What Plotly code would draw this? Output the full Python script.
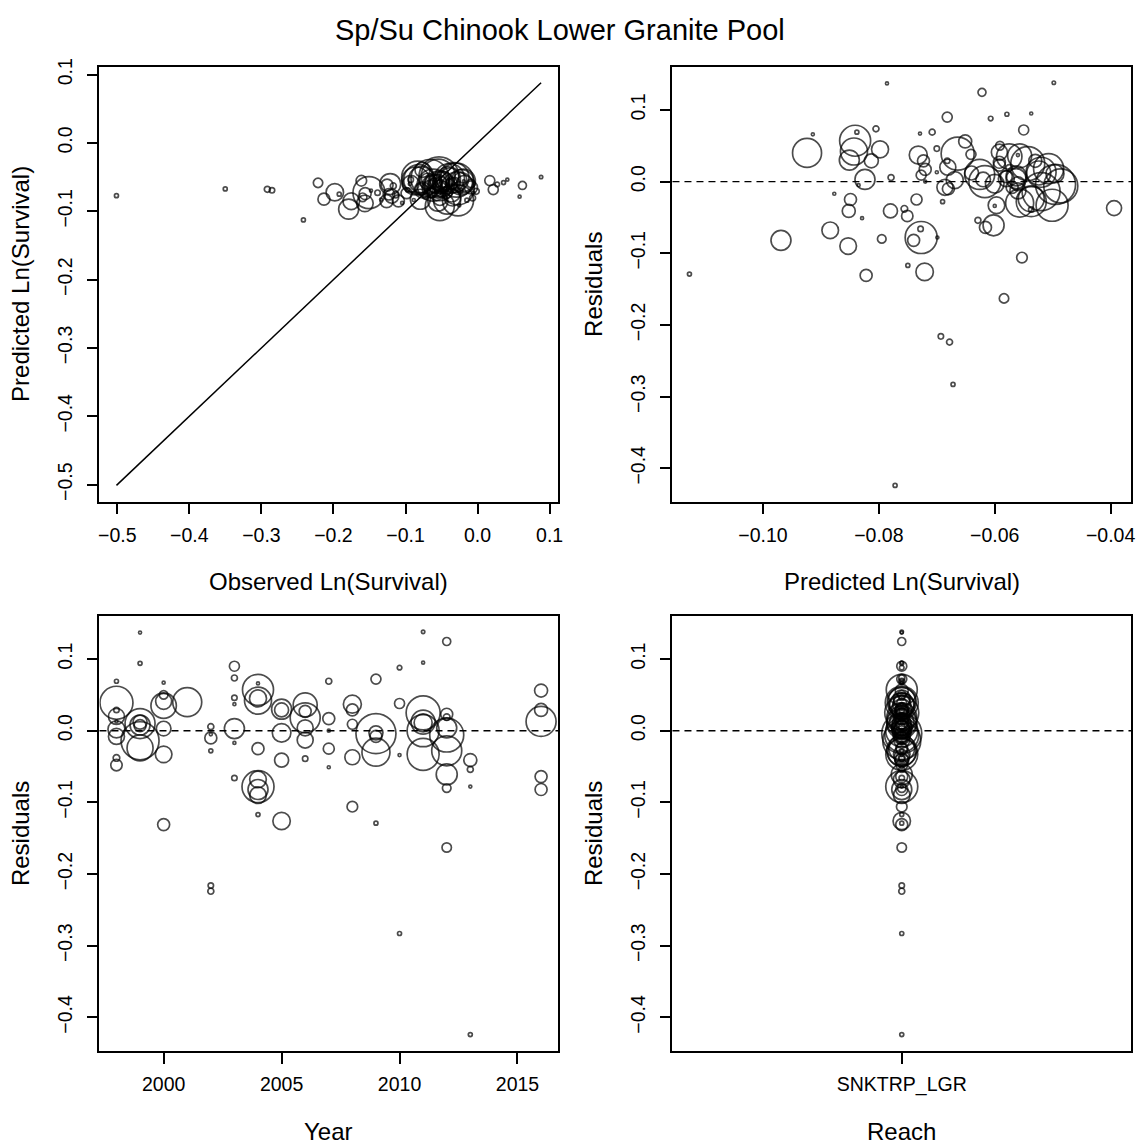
import plotly.graph_objects as go

# ---------------- data ----------------
year = [1998, 1998, 1998, 1998, 1998, 1998, 1998, 1998, 1998,
        1999, 1999, 1999, 1999, 1999, 1999, 1999, 1999,
        2000, 2000, 2000, 2000, 2000, 2000, 2000,
        2001,
        2002, 2002, 2002, 2002, 2002, 2002,
        2003, 2003, 2003, 2003, 2003, 2003, 2003,
        2004, 2004, 2004, 2004, 2004, 2004, 2004, 2004, 2004, 2004,
        2005, 2005, 2005, 2005, 2005,
        2006, 2006, 2006, 2006, 2006, 2006,
        2007, 2007, 2007, 2007, 2007,
        2008, 2008, 2008, 2008, 2008,
        2009, 2009, 2009, 2009, 2009, 2009,
        2010, 2010, 2010, 2010,
        2011, 2011, 2011, 2011, 2011, 2011, 2011,
        2012, 2012, 2012, 2012, 2012, 2012, 2012, 2012, 2012,
        2013, 2013, 2013, 2013,
        2016, 2016, 2016, 2016, 2016]

predicted = [-0.0838, -0.0664, -0.0682, -0.0681, -0.0669, -0.0686, -0.0756, -0.0751, -0.0700,
             -0.0786, -0.0579, -0.0626, -0.0640, -0.0580, -0.0563, -0.0520, -0.0537,
             -0.0729, -0.0591, -0.0575, -0.0592, -0.0620, -0.0597, -0.0822,
             -0.0924,
             -0.0779, -0.0835, -0.0680, -0.0690, -0.0693, -0.0678,
             -0.0682, -0.0805, -0.0700, -0.0560, -0.0824, -0.0877, -0.0728,
             -0.0914, -0.0841, -0.0843, -0.0798, -0.0849, -0.0727, -0.0884, -0.0969, -0.0853, -0.0750,
             -0.0851, -0.0813, -0.0600, -0.0780, -0.0721,
             -0.0557, -0.0592, -0.0507, -0.0580, -0.0560, -0.0537,
             -0.0708, -0.0720, -0.0720, -0.0735, -0.0829,
             -0.0732, -0.0723, -0.0727, -0.0394, -0.0553,
             -0.0550, -0.0495, -0.0560, -0.0570, -0.0557, -0.1127,
             -0.0607, -0.0641, -0.0600, -0.0672,
             -0.0498, -0.0537, -0.0543, -0.0524, -0.0496, -0.0617, -0.0501,
             -0.0622, -0.0592, -0.0575, -0.0486, -0.0563, -0.0537, -0.0602, -0.0795, -0.0584,
             -0.0852, -0.0629, -0.0699, -0.0772,
             -0.0651, -0.0530, -0.0520, -0.0616, -0.0740]

residual = [0.069, 0.039, 0.029, 0.020, 0.002, -0.008, -0.038, -0.048, 0.013,
            0.137, 0.094, 0.010, 0.012, 0.007, 0.008, -0.014, -0.024,
            0.067, 0.050, 0.035, 0.041, 0.003, -0.033, -0.131,
            0.040,
            0.0056, -0.005, -0.010, -0.028, -0.216, -0.224,
            0.090, 0.0736, 0.046, 0.037, 0.003, -0.017, -0.066,
            0.066, 0.057, 0.042, 0.045, -0.025, -0.078, -0.068, -0.082, -0.090, -0.117,
            0.030, 0.029, -0.003, -0.041, -0.126,
            0.036, 0.027, 0.018, 0.004, -0.013, -0.039,
            0.069, 0.017, 0.000, -0.025, -0.051,
            0.037, 0.029, 0.009, -0.037, -0.106,
            0.072, -0.004, -0.003, -0.008, -0.030, -0.129,
            0.088, 0.038, -0.034, -0.283,
            0.138, 0.095, 0.025, 0.012, 0.011, 0.000, -0.033,
            0.1245, 0.023, 0.019, -0.006, 0.004, -0.028, -0.061, -0.080, -0.163,
            -0.041, -0.054, -0.078, -0.424,
            0.056, 0.029, 0.013, -0.064, -0.082]

observed = [-0.0148, -0.0274, -0.0392, -0.0481, -0.0649, -0.0766, -0.1136, -0.1231, -0.0570,
            0.0584, 0.0361, -0.0526, -0.0520, -0.0510, -0.0483, -0.0660, -0.0777,
            -0.0059, -0.0091, -0.0225, -0.0182, -0.0590, -0.0927, -0.2132,
            -0.0524,
            -0.0723, -0.0885, -0.0780, -0.0970, -0.2853, -0.2918,
            0.0218, -0.0069, -0.0240, -0.0190, -0.0794, -0.1047, -0.1388,
            -0.0254, -0.0271, -0.0423, -0.0348, -0.1099, -0.1507, -0.1564, -0.1789, -0.1753, -0.1920,
            -0.0551, -0.0523, -0.0630, -0.1190, -0.1981,
            -0.0197, -0.0322, -0.0327, -0.0540, -0.0690, -0.0927,
            -0.0018, -0.0550, -0.0720, -0.0985, -0.1339,
            -0.0362, -0.0433, -0.0637, -0.0764, -0.1613,
            0.0170, -0.0535, -0.0590, -0.0650, -0.0857, -0.2417,
            0.0273, -0.0261, -0.0940, -0.3502,
            0.0882, 0.0413, -0.0293, -0.0404, -0.0386, -0.0617, -0.0831,
            0.0623, -0.0362, -0.0385, -0.0546, -0.0523, -0.0817, -0.1212, -0.1595, -0.2214,
            -0.1262, -0.1169, -0.1479, -0.5012,
            -0.0091, -0.0240, -0.0390, -0.1256, -0.1560]

# relative weight of each release group (bubble radius is proportional to it)
weight = [2, 16.5, 2.7, 8, 8.5, 8, 3.3, 5.7, 1,
          1, 2, 15, 7, 6, 10, 19, 13,
          1, 4.3, 12.7, 8, 7.3, 8.3, 6,
          14.5,
          3, 1, 6, 2, 2.7, 3,
          5, 3, 2.7, 1, 10, 1.5, 2.7,
          1, 15.5, 13.5, 8.5, 6, 16, 8.3, 10, 8.3, 2,
          10, 7, 9.3, 7, 8.7,
          12, 6, 15, 8, 8, 2.7,
          3, 6, 1, 5.5, 1,
          9, 6, 5, 7.5, 5.3,
          5, 20, 7, 6, 14, 2,
          2.3, 5, 1, 2,
          1.7, 1, 17, 12, 9, 16, 16,
          4, 6, 3.3, 17, 10, 15, 10.5, 4.3, 4.7,
          6.5, 3, 1, 2,
          6.5, 6.5, 15, 6, 6]

reach = ["SNKTRP_LGR"] * len(year)

title_text = "Sp/Su Chinook Lower Granite Pool"

# ---------------- layout helpers ----------------
W, H = 1146, 1145
FONT = "Liberation Sans, Arial, Helvetica, sans-serif"
BUBBLE_SCALE = 2.0
sizes = [max(w * BUBBLE_SCALE, 3.0) for w in weight]


def rrange(vals):
    lo, hi = min(vals), max(vals)
    d = hi - lo
    return [lo - 0.04 * d, hi + 0.04 * d]


def px_x(a, b):
    return [a / W, b / W]


def px_y(top, bottom):
    return [1 - bottom / H, 1 - top / H]


# plot regions in pixels (left, right, top, bottom)
P1 = (99, 560, 59, 497)
P2 = (675, 1136, 59, 497)
P3 = (99, 560, 612, 1050)
P4 = (675, 1136, 612, 1050)

marker = dict(symbol="circle-open", color="black", size=sizes,
              line=dict(color="black", width=1.7))

fig = go.Figure()

# panel 1: observed vs predicted
fig.add_trace(go.Scatter(x=observed, y=predicted, mode="markers", marker=marker,
                         xaxis="x", yaxis="y", showlegend=False))
lo = min(observed + predicted)
hi = max(observed + predicted)
fig.add_trace(go.Scatter(x=[lo, hi], y=[lo, hi], mode="lines",
                         line=dict(color="black", width=1.5),
                         xaxis="x", yaxis="y", showlegend=False))
# panel 2: predicted vs residual
fig.add_trace(go.Scatter(x=predicted, y=residual, mode="markers", marker=marker,
                         xaxis="x2", yaxis="y2", showlegend=False))
# panel 3: year vs residual
fig.add_trace(go.Scatter(x=year, y=residual, mode="markers", marker=marker,
                         xaxis="x3", yaxis="y3", showlegend=False))
# panel 4: reach vs residual
fig.add_trace(go.Scatter(x=reach, y=residual, mode="markers", marker=marker,
                         xaxis="x4", yaxis="y4", showlegend=False))

axis_common = dict(showline=True, mirror=True, linecolor="black", linewidth=1.8,
                   ticks="outside", ticklen=11, tickwidth=1.6, tickcolor="black",
                   showgrid=False, zeroline=False,
                   tickfont=dict(family=FONT, size=19.5, color="black"))

r1 = rrange(observed + predicted)
res_range = rrange(residual)

fig.update_layout(
    width=W, height=H,
    margin=dict(l=0, r=0, t=0, b=0),
    paper_bgcolor="white", plot_bgcolor="white",
    font=dict(family=FONT, color="black"),
    xaxis=dict(axis_common, domain=px_x(P1[0], P1[1]), range=r1, anchor="y",
               tickvals=[-0.5, -0.4, -0.3, -0.2, -0.1, 0.0, 0.1], tickformat=".1f",
               ticklabelstandoff=4),
    yaxis=dict(axis_common, domain=px_y(P1[2], P1[3]), range=r1, anchor="x",
               tickvals=[-0.5, -0.4, -0.3, -0.2, -0.1, 0.0, 0.1], tickformat=".1f",
               tickangle=-90, ticklabelstandoff=7),
    xaxis2=dict(axis_common, domain=px_x(P2[0], P2[1]), range=rrange(predicted), anchor="y2",
                tickvals=[-0.10, -0.08, -0.06, -0.04], tickformat=".2f",
                ticklabelstandoff=4),
    yaxis2=dict(axis_common, domain=px_y(P2[2], P2[3]), range=res_range, anchor="x2",
                tickvals=[-0.4, -0.3, -0.2, -0.1, 0.0, 0.1], tickformat=".1f",
                tickangle=-90, ticklabelstandoff=7),
    xaxis3=dict(axis_common, domain=px_x(P3[0], P3[1]), range=rrange(year), anchor="y3",
                tickvals=[2000, 2005, 2010, 2015], tickformat="d",
                ticklabelstandoff=4),
    yaxis3=dict(axis_common, domain=px_y(P3[2], P3[3]), range=res_range, anchor="x3",
                tickvals=[-0.4, -0.3, -0.2, -0.1, 0.0, 0.1], tickformat=".1f",
                tickangle=-90, ticklabelstandoff=7),
    xaxis4=dict(axis_common, domain=px_x(P4[0], P4[1]), type="category", range=[-1, 1],
                anchor="y4", ticklabelstandoff=4),
    yaxis4=dict(axis_common, domain=px_y(P4[2], P4[3]), range=res_range, anchor="x4",
                tickvals=[-0.4, -0.3, -0.2, -0.1, 0.0, 0.1], tickformat=".1f",
                tickangle=-90, ticklabelstandoff=7),
)

# dashed zero lines
for ax in ["2", "3", "4"]:
    fig.add_shape(type="line", xref="x" + ax + " domain", yref="y" + ax,
                  x0=0, x1=1, y0=0, y1=0,
                  line=dict(color="black", width=1.4, dash="7px,5px"))

# titles as annotations
def ann(text, xpx, ypx, size, angle=0):
    fig.add_annotation(text=text, x=xpx / W, y=1 - ypx / H, xref="paper", yref="paper",
                       showarrow=False, xanchor="center", yanchor="middle",
                       textangle=angle, font=dict(family=FONT, size=size, color="black"))

ann(title_text, 562, 22, 29)
ann("Observed Ln(Survival)", (P1[0] + P1[1]) / 2, 578, 24)
ann("Predicted Ln(Survival)", (P2[0] + P2[1]) / 2, 578, 24)
ann("Year", (P3[0] + P3[1]) / 2, 1131, 24)
ann("Reach", (P4[0] + P4[1]) / 2, 1131, 24)
ann("Predicted Ln(Survival)", 19, (P1[2] + P1[3]) / 2, 24, -90)
ann("Residuals", 595, (P2[2] + P2[3]) / 2, 24, -90)
ann("Residuals", 19, (P3[2] + P3[3]) / 2, 24, -90)
ann("Residuals", 595, (P4[2] + P4[3]) / 2, 24, -90)

fig.write_html("out.html")
